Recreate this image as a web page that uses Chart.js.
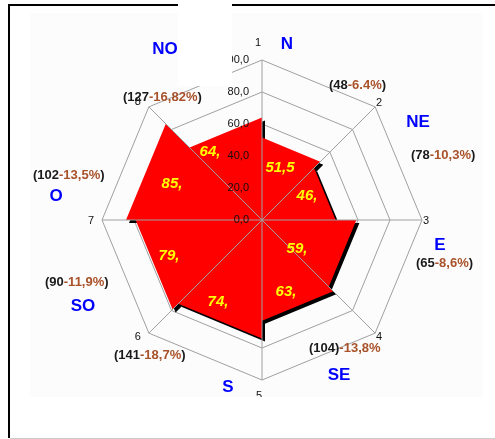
<!DOCTYPE html>
<html>
<head>
<meta charset="utf-8">
<script src="https://cdn.jsdelivr.net/npm/chart.js@4/dist/chart.umd.min.js"></script>
<style>
body { margin: 0; background: #fff; }
#wrap { position: relative; width: 495px; height: 439px; }
</style>
</head>
<body>
<div id="wrap"><canvas id="chart"></canvas></div>
<script>
// axis numbers, sector values (one per sector between axis i and i+1)
var axisLabels = ['1', '2', '3', '4', '5', '6', '7', '8'];
var sectorValues = [51.5, 46, 59, 63, 74, 79, 85, 64];
var valueLabels = ['51,5', '46,', '59,', '63,', '74,', '79,', '85,', '64,'];
var directions = ['N', 'NE', 'E', 'SE', 'S', 'SO', 'O', 'NO'];
var counts = ['(48', '(78', '(65', '(104)', '(141', '(90', '(102', '(127'];
var percents = ['-6.4%', '-10,3%', '-8,6%', '-13,8%', '-18,7%', '-11,9%', '-13,5%', '-16,82%'];
var closers = [')', ')', ')', '', ')', ')', ')', ')'];
var tickValues = [0, 20, 40, 60, 80, 100];

// text placement, px offsets from the scale centre
var valuePos = [[18, -52], [45, -24], [35, 29], [24, 72], [-44, 82], [-93, 36], [-90, -36], [-52, -68]];
var dirPos = [[25, -176], [156, -98], [178, 25], [77, 155], [-34, 167], [-179, 86], [-206, -24], [-97, -171]];
var countPos = [[67, -135], [149, -65], [154, 43], [47, 128], [-148, 135], [-217, 62], [-229, -45], [-139, -123]];
var axisLabelOffset = [[-4, -17], [4, -4], [4, 1], [4, 4], [-3, 16], [-11, 4], [-11, 1], [-11, -5]];

var FONT = '"Liberation Sans", Arial, sans-serif';
var GRID = '#a0a0a0';

function sectorData(i) {
  var d = axisLabels.map(function() { return 0; });
  d[i] = sectorValues[i];
  d[(i + 1) % axisLabels.length] = sectorValues[i];
  return d;
}

var datasets = [];
sectorValues.forEach(function(v, i) {
  datasets.push({
    data: sectorData(i),
    backgroundColor: '#ff0000',
    borderColor: 'rgba(0,0,0,0)',
    borderWidth: 0,
    pointRadius: 0,
    fill: true,
    order: 0
  });
});
sectorValues.forEach(function(v, i) {
  datasets.push({
    data: sectorData(i),
    rAxisID: 'shadow',
    backgroundColor: '#000000',
    borderColor: 'rgba(0,0,0,0)',
    borderWidth: 0,
    pointRadius: 0,
    fill: true,
    order: 1
  });
});

var extras = {
  id: 'extras',
  beforeDraw: function(chart) {
    var ctx = chart.ctx;
    ctx.save();
    ctx.fillStyle = '#ffffff';
    ctx.fillRect(0, 0, chart.width, chart.height);
    ctx.fillStyle = '#fcfcfc';
    ctx.fillRect(30, 13, 453, 384);
    ctx.fillStyle = '#000000';
    ctx.fillRect(8, 4, 487, 2);
    ctx.fillRect(8, 4, 2, 434);
    ctx.fillStyle = '#cccccc';
    ctx.fillRect(10, 438, 485, 1);
    ctx.restore();
  },
  afterDatasetsDraw: function(chart) {
    var ctx = chart.ctx;
    var s = chart.scales.r;
    var cx = s.xCenter, cy = s.yCenter;
    ctx.save();
    // spokes on top of the fill
    ctx.strokeStyle = GRID;
    ctx.lineWidth = 1;
    axisLabels.forEach(function(l, i) {
      var p = s.getPointPositionForValue(i, 100);
      ctx.beginPath();
      ctx.moveTo(cx, cy);
      ctx.lineTo(p.x, p.y);
      ctx.stroke();
    });
    // tick labels
    ctx.fillStyle = '#111';
    ctx.font = '11px ' + FONT;
    ctx.textAlign = 'right';
    ctx.textBaseline = 'middle';
    tickValues.forEach(function(t) {
      var y = cy - s.getDistanceFromCenterForValue(t);
      ctx.fillText(t.toFixed(1).replace('.', ','), cx - 13, y);
    });
    // axis numbers
    ctx.textAlign = 'center';
    axisLabels.forEach(function(l, i) {
      var p = s.getPointPositionForValue(i, 100);
      ctx.save();
      ctx.beginPath();
      ctx.rect(0, 0, chart.width, 397);
      ctx.clip();
      ctx.fillText(l, p.x + axisLabelOffset[i][0], p.y + axisLabelOffset[i][1]);
      ctx.restore();
    });
    // values inside sectors
    ctx.fillStyle = '#ffff00';
    ctx.font = 'italic bold 15px ' + FONT;
    valueLabels.forEach(function(l, i) {
      ctx.fillText(l, cx + valuePos[i][0], cy + valuePos[i][1]);
    });
    // direction names
    ctx.fillStyle = '#0000ff';
    ctx.font = 'bold 17px ' + FONT;
    directions.forEach(function(d, i) {
      ctx.fillText(d, cx + dirPos[i][0], cy + dirPos[i][1]);
    });
    // white patch over the top
    ctx.fillStyle = '#ffffff';
    ctx.fillRect(178, 0, 54, 86);
    // counts with percentages
    ctx.font = 'bold 13px ' + FONT;
    ctx.textAlign = 'left';
    counts.forEach(function(c, i) {
      var x = cx + countPos[i][0], y = cy + countPos[i][1];
      ctx.fillStyle = '#1a1a1a';
      ctx.fillText(c, x, y);
      x += ctx.measureText(c).width;
      ctx.fillStyle = '#a9522a';
      ctx.fillText(percents[i], x, y);
      x += ctx.measureText(percents[i]).width;
      ctx.fillStyle = '#1a1a1a';
      ctx.fillText(closers[i], x, y);
    });
    ctx.restore();
  }
};

new Chart(document.getElementById('chart'), {
  type: 'radar',
  data: { labels: axisLabels, datasets: datasets },
  options: {
    responsive: true,
    maintainAspectRatio: false,
    animation: false,
    layout: { padding: { left: 102, right: 73, top: 60, bottom: 59 } },
    plugins: { legend: { display: false }, tooltip: { enabled: false } },
    scales: {
      r: {
        min: 0,
        max: 100,
        ticks: { display: false, stepSize: 20 },
        grid: { color: GRID, lineWidth: 1 },
        angleLines: { display: false },
        pointLabels: { display: false }
      },
      shadow: {
        type: 'radialLinear',
        axis: 'r',
        min: 0,
        max: 100,
        ticks: { display: false, stepSize: 20 },
        grid: { display: false },
        angleLines: { display: false },
        pointLabels: { display: false },
        afterFit: function(scale) {
          scale.xCenter += 3;
          scale.yCenter += 3;
        }
      }
    }
  },
  plugins: [extras]
});
</script>
</body>
</html>
